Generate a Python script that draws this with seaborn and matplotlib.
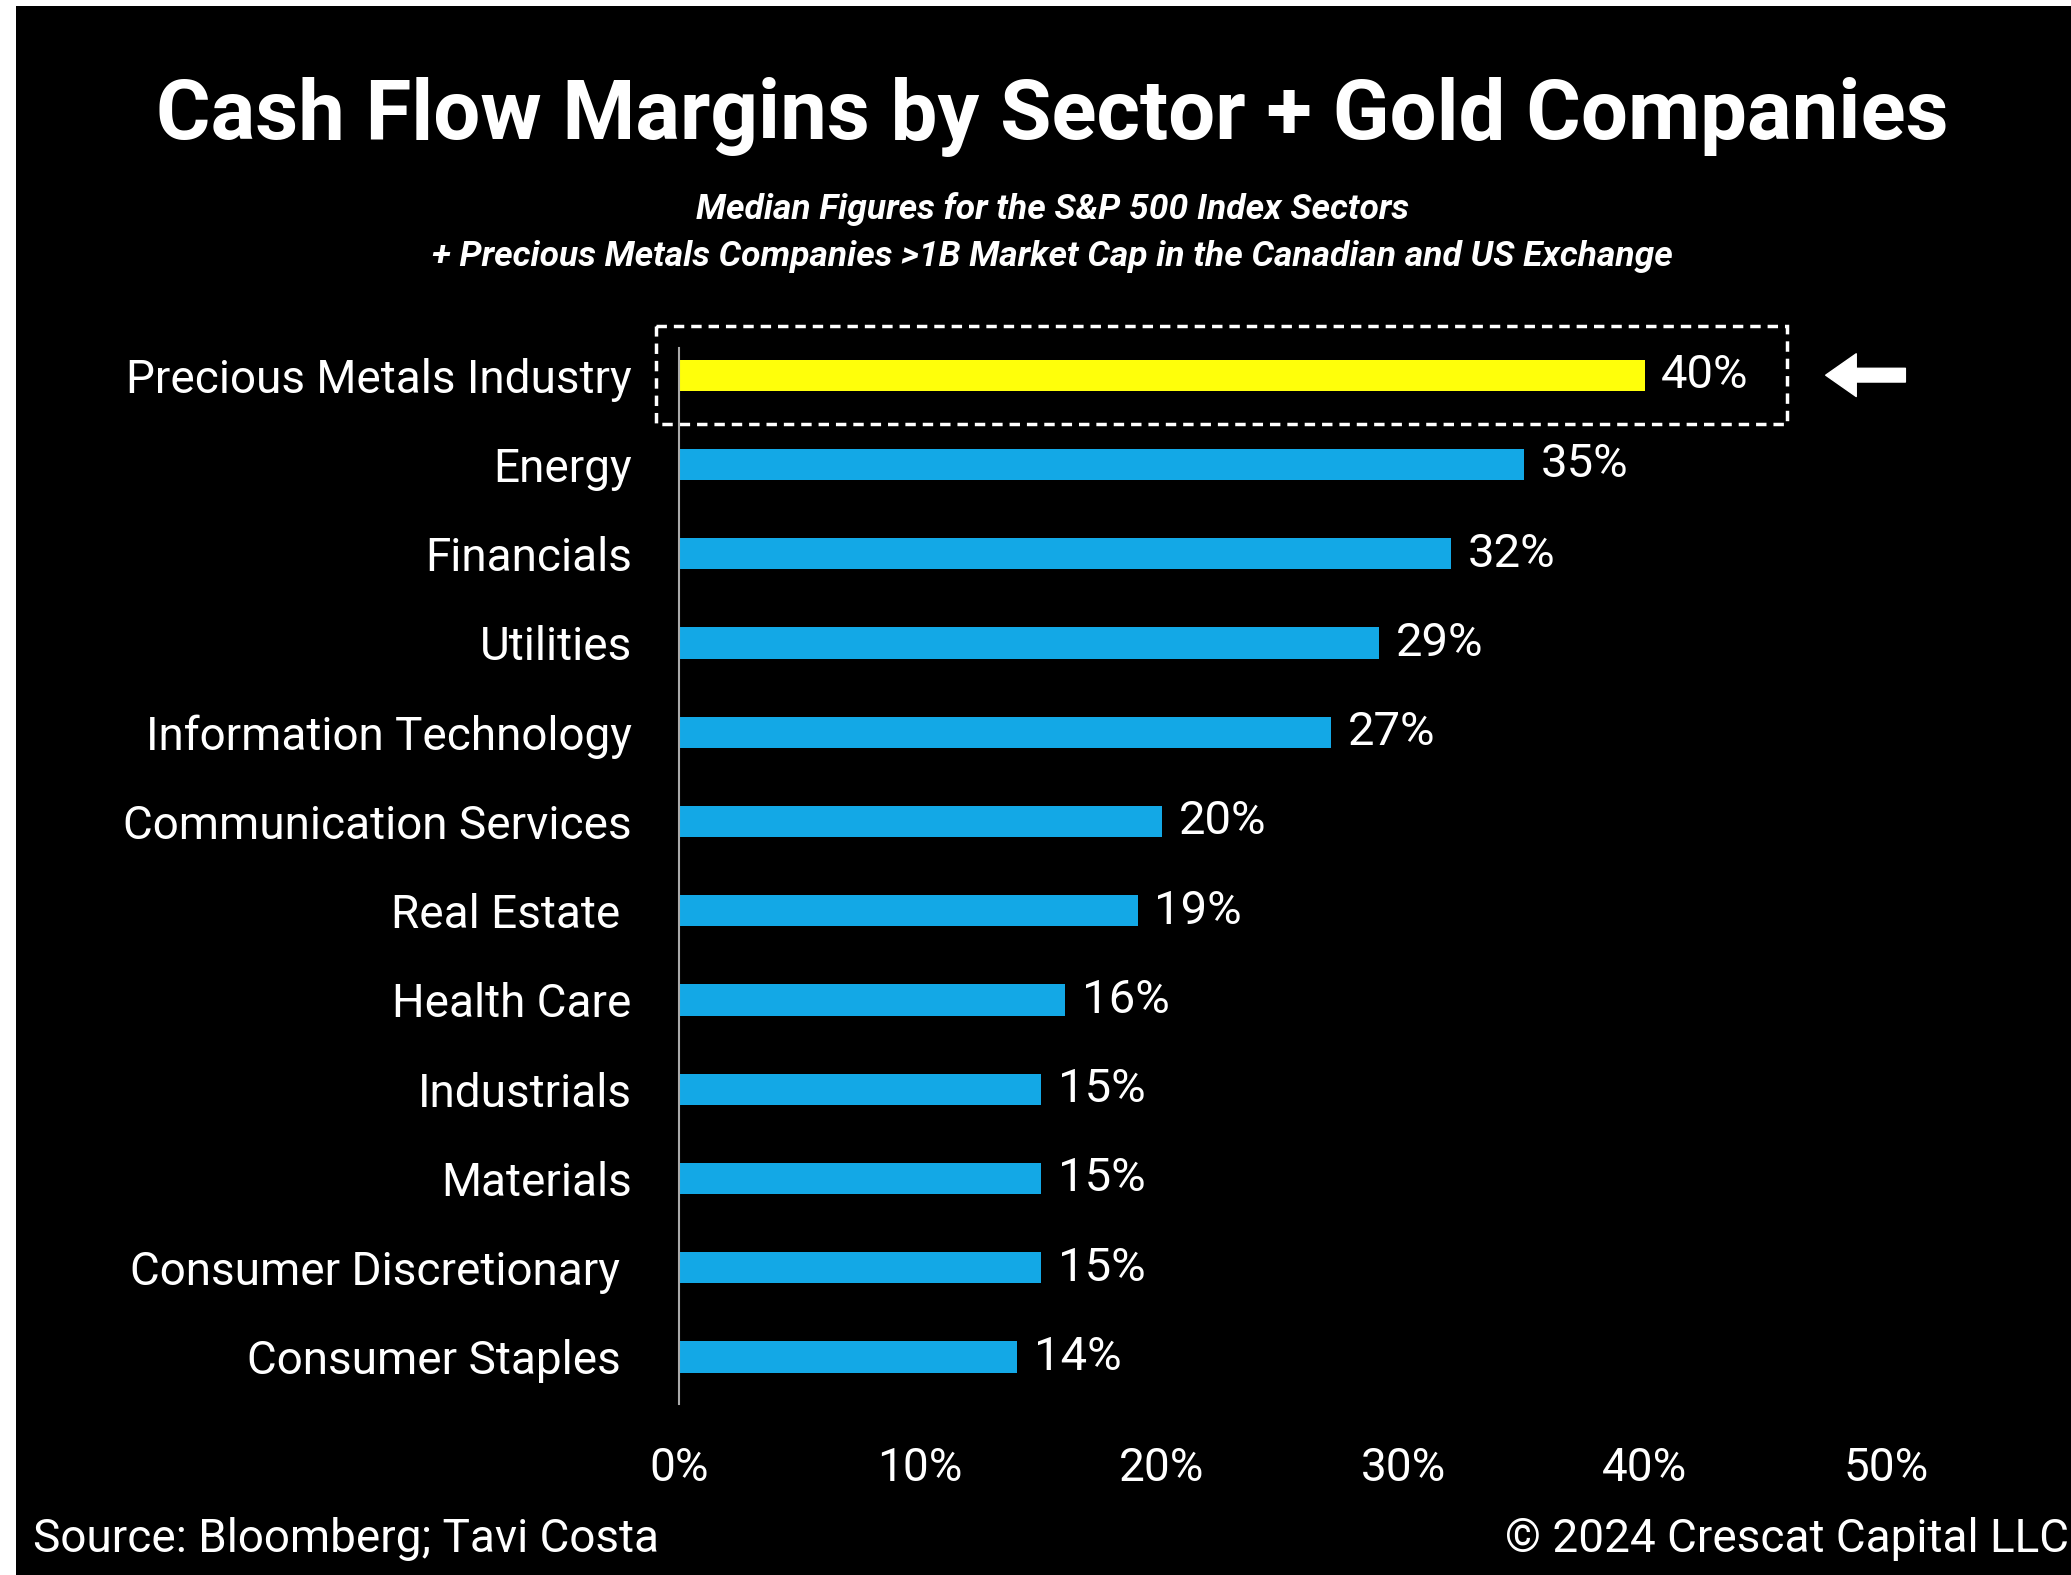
import matplotlib
matplotlib.use("Agg")
import matplotlib.pyplot as plt
from matplotlib.patches import Rectangle
import seaborn as sns

# Data
sectors = ["Precious Metals Industry", "Energy", "Financials", "Utilities",
           "Information Technology", "Communication Services", "Real Estate ",
           "Health Care", "Industrials", "Materials", "Consumer Discretionary ",
           "Consumer Staples "]
margins = [40, 35, 32, 29, 27, 20, 19, 16, 15, 15, 15, 14]
xticks = [0, 10, 20, 30, 40, 50]
highlight = "Precious Metals Industry"

title = "Cash Flow Margins by Sector + Gold Companies"
subtitle_1 = "Median Figures for the S&P 500 Index Sectors"
subtitle_2 = "+ Precious Metals Companies >1B Market Cap in the Canadian and US Exchange"
source = "Source: Bloomberg; Tavi Costa"
copyright_note = "\u00a9 2024 Crescat Capital LLC"

# Style
sns.set_style("dark")
plt.rcParams['font.family'] = ['Roboto', 'DejaVu Sans']
plt.rcParams['text.color'] = 'white'

yellow = "#FFFF0A"
blue = "#13A8E6"
colors = [yellow if s == highlight else blue for s in sectors]

fig = plt.figure(figsize=(20.71, 15.75), dpi=100, facecolor='black')
ax = fig.add_axes([0.3278, 0.1084, 0.5829, 0.6704])
ax.set_facecolor('black')

sns.barplot(x=margins, y=sectors, hue=sectors, palette=colors, legend=False,
            width=0.35, orient='h', saturation=1, linewidth=0, ax=ax)

ax.set_xlim(0, 50)
ax.set_ylim(11.53, -0.3)
ax.set_xticks(xticks)
ax.set_xticklabels([f"{t}%" for t in xticks])
ax.set_xlabel("")
ax.set_ylabel("")
ax.grid(False)
ax.tick_params(axis='x', length=0, pad=30, labelsize=33, colors='white')
ax.tick_params(axis='y', length=0, pad=34, labelsize=33, colors='white')
for side in ['top', 'right', 'bottom']:
    ax.spines[side].set_visible(False)
ax.spines['left'].set_color('#AAAAAA')
ax.spines['left'].set_linewidth(1.5)

# Value labels
for i, v in enumerate(margins):
    ax.annotate(f"{v}%", xy=(v, i), xytext=(12, 0), textcoords='offset points',
                va='center', ha='left', fontsize=34, color='white')

# Dashed box around highlighted row
ax.add_patch(Rectangle((-0.93, -0.547), 46.83, 1.094, fill=False, ec='white',
                       lw=2.5, ls=(0, (3, 2)), clip_on=False))

# Arrow pointing to highlighted row
ax.annotate('', xy=(47.5, 0), xytext=(50.8, 0), annotation_clip=False,
            arrowprops=dict(arrowstyle='simple,head_length=1.0,head_width=1.4,tail_width=0.45',
                            fc='white', ec='white', mutation_scale=22, shrinkA=0, shrinkB=0))

# Titles
fig.text(0.508, 0.926, title, ha='center', va='center', fontsize=60,
         fontweight='bold', color='white')
fig.text(0.508, 0.867, subtitle_1, ha='center', va='center', fontsize=25.5,
         fontweight='bold', fontstyle='italic', color='white')
fig.text(0.508, 0.837, subtitle_2, ha='center', va='center', fontsize=25.5,
         fontweight='bold', fontstyle='italic', color='white')

# Footer
fig.text(0.016, 0.0227, source, ha='left', va='center', fontsize=33, color='white')
fig.text(0.999, 0.0227, copyright_note, ha='right', va='center', fontsize=33, color='white')

# Thin white border top / left
fig.patches.append(Rectangle((0, 0.996), 1, 0.004, transform=fig.transFigure,
                             fc='white', ec='none', zorder=10))
fig.patches.append(Rectangle((0, 0), 0.0077, 1, transform=fig.transFigure,
                             fc='white', ec='none', zorder=10))

fig.savefig("out.png", dpi=100, facecolor='black')
